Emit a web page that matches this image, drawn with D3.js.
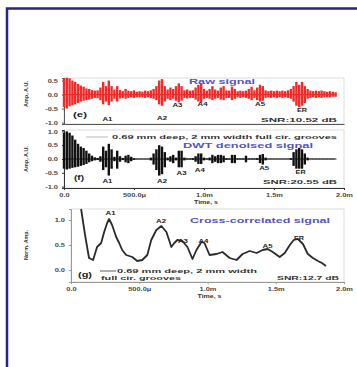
<!DOCTYPE html>
<html>
<head>
<meta charset="utf-8">
<script src="https://cdn.jsdelivr.net/npm/d3@7"></script>
<style>
  body { margin: 0; background: #fff; }
  svg text { font-family: "Liberation Sans", Arial, sans-serif; font-weight: bold; }
</style>
</head>
<body>
<svg id="chart" width="357" height="367"></svg>
<script>
const sampleStep = 0.02;
const rawHi = [.58,.6,.58,.5,.45,.38,.32,.28,.22,.2,.16,.14,.15,.25,.45,.3,.5,.3,.18,.3,
  .16,.12,.2,.14,.12,.15,.1,.12,.1,.14,.12,.15,.2,.3,.5,.55,.3,.18,.25,.2,
  .3,.4,.3,.15,.18,.14,.15,.25,.35,.4,.2,.14,.2,.3,.18,.14,.25,.3,.15,.14,
  .28,.2,.12,.14,.12,.14,.2,.28,.15,.25,.35,.3,.15,.12,.14,.12,.14,.12,.14,.12,
  .15,.2,.3,.45,.35,.45,.3,.2,.14,.12,.14,.12,.14,.12,.1,.12,.1,.08];
const rawLo = [.45,.5,.42,.38,.35,.3,.25,.22,.2,.18,.15,.12,.13,.2,.35,.25,.38,.25,.15,.25,
  .14,.12,.15,.12,.1,.12,.1,.1,.1,.12,.1,.12,.15,.2,.35,.4,.25,.15,.2,.15,
  .22,.28,.22,.12,.14,.12,.12,.18,.25,.28,.15,.12,.15,.2,.15,.12,.18,.2,.12,.12,
  .2,.15,.1,.12,.1,.12,.15,.2,.12,.2,.25,.22,.12,.1,.12,.1,.12,.1,.12,.1,
  .12,.15,.25,.4,.45,.4,.3,.15,.12,.1,.12,.1,.12,.1,.1,.1,.08,.08];
const dwtHi = [.95,1.0,.95,.85,.7,.55,.45,.4,.3,.2,.12,.06,.04,.1,.45,.3,.55,.35,.08,.3,
  .1,.04,.12,.15,.08,.03,.01,.01,.01,.01,.01,.05,.2,.35,.5,.45,.25,.05,.1,.15,
  .05,.3,.3,.05,.02,.02,.03,.1,.2,.2,.05,.02,.05,.15,.1,.15,.15,.12,.03,.02,
  .15,.15,.02,.02,.02,.12,.02,.02,.02,.03,.15,.18,.05,.01,.01,.01,.01,.01,.01,.01,
  .01,.03,.25,.35,.4,.35,.2,.05,.01,.01,.01,.01,.01,.01,.01,.01,.01,.01];
const dwtLo = [.35,.38,.35,.32,.3,.28,.25,.22,.18,.12,.08,.05,.04,.1,.4,.3,.6,.35,.08,.35,
  .1,.04,.12,.15,.08,.03,.01,.01,.01,.01,.01,.05,.2,.4,.6,.55,.3,.05,.1,.15,
  .05,.3,.3,.05,.02,.02,.03,.1,.18,.18,.05,.02,.05,.15,.1,.15,.15,.12,.03,.02,
  .15,.15,.02,.02,.02,.12,.02,.02,.02,.03,.15,.2,.05,.01,.01,.01,.01,.01,.01,.01,
  .01,.03,.25,.35,.35,.35,.2,.05,.01,.01,.01,.01,.01,.01,.01,.01,.01,.01];

// cross-correlated trace (time in ms, normalised amplitude)
const xcorrT = [.074,.103,.132,.162,.191,.221,.243,.265,.279,.301,.331,.353,.375,.404,.449,.485,.522,.559,.588,.625,
  .662,.699,.735,.757,.779,.816,.853,.890,.919,.956,.978,1.015,1.066,1.110,1.162,1.213,1.257,1.309,1.360,1.404,
  1.441,1.478,1.529,1.566,1.603,1.632,1.662,1.699,1.735,1.772,1.809,1.838,1.868];
const xcorrV = [1.22,.70,.24,.20,.46,.54,.76,.94,1.02,.90,.66,.54,.40,.30,.26,.18,.20,.30,.60,.80,
  .88,.76,.46,.54,.60,.58,.46,.22,.40,.56,.54,.30,.32,.36,.24,.20,.32,.38,.34,.40,
  .42,.36,.26,.34,.50,.60,.62,.52,.32,.24,.18,.14,.08];

const peakNames = ['A1', 'A2', 'A3', 'A4', 'A5', 'ER'];
const rawPeakT = [.31, .70, .81, .99, 1.40, 1.70];
const rawPeakV = [-.94, -.91, -.45, -.41, -.41, -.62];
const dwtPeakT = [.31, .70, .84, .97, 1.43, 1.69];
const dwtPeakV = [-.87, -.87, -.58, -.47, -.40, -.54];
const xcPeakT = [.29, .66, .82, .97, 1.44, 1.67];
const xcPeakV = [1.10, .94, .54, .54, .44, .60];

const timeTicks = [0, 0.5, 1.0, 1.5, 2.0];
const timeLabels = ['0.0', '500.0\u03bc', '1.0m', '1.5m', '2.0m'];
const ampTicksE = [0.5, 0.0, -0.5, -1.0];
const ampTicksF = [1.0, 0.5, 0.0, -0.5, -1.0];
const normTicks = [1.0, 0.5, 0.0];

const svg = d3.select('#chart');
const titleBlue = '#5555c4';
const widen = 1.35; // the scanned figure is stretched sideways

// outer frame
svg.append('path')
  .attr('d', 'M7,370 L7,8.5 L360,8.5')
  .attr('fill', 'none')
  .attr('stroke', '#262680')
  .attr('stroke-width', 2.5);

function stretchText(g, x, y, str, len, opts = {}) {
  const t = g.append('text')
    .attr('x', x).attr('y', y)
    .attr('font-size', opts.size || 6)
    .attr('fill', opts.color || '#333')
    .attr('text-anchor', opts.anchor || 'start')
    .text(str);
  if (len) t.attr('textLength', len).attr('lengthAdjust', 'spacingAndGlyphs');
  return t;
}

function widenTicks(sel) {
  sel.each(function () {
    const w = this.getComputedTextLength();
    d3.select(this).attr('textLength', w * widen).attr('lengthAdjust', 'spacingAndGlyphs');
  });
}

function panel(box, yDomain, yTicks, opts) {
  const x = d3.scaleLinear().domain([0, 2]).range([box.x0, box.x1]);
  const y = d3.scaleLinear().domain(yDomain).range([box.y1, box.y0]);
  const g = svg.append('g');

  g.append('rect')
    .attr('x', box.x0).attr('y', box.y0)
    .attr('width', box.x1 - box.x0).attr('height', box.y1 - box.y0)
    .attr('fill', '#fff').attr('stroke', '#d4d4d4').attr('stroke-width', 0.8);

  const yAxis = g.append('g')
    .attr('transform', `translate(${box.x0},0)`)
    .call(d3.axisLeft(y).tickValues(yTicks).tickSize(2).tickPadding(4)
      .tickFormat(d3.format('.1f')));
  yAxis.select('.domain').attr('stroke', opts.axisColor);
  yAxis.selectAll('line').attr('stroke', opts.axisColor);
  yAxis.selectAll('text').attr('font-size', 5.5).attr('fill', '#444')
    .attr('font-family', '"Liberation Sans", Arial, sans-serif').attr('font-weight', 'bold')
    .text(d => d3.format('.1f')(d).replace('\u2212', '-'))
    .call(widenTicks);

  const xAxis = g.append('g')
    .attr('transform', `translate(0,${box.y1})`)
    .call(d3.axisBottom(x).tickValues(timeTicks).tickSize(opts.showTime ? 2 : 0)
      .tickPadding(3).tickFormat((d, i) => opts.showTime ? timeLabels[i] : ''));
  xAxis.select('.domain').attr('stroke', opts.axisColor);
  xAxis.selectAll('line').attr('stroke', opts.axisColor);
  xAxis.selectAll('text').attr('font-size', 5.5).attr('fill', '#444')
    .attr('font-family', '"Liberation Sans", Arial, sans-serif').attr('font-weight', 'bold')
    .call(widenTicks);

  if (opts.showTime) {
    stretchText(g, (box.x0 + box.x1) / 2 + 2, box.y1 + 16, 'Time, s', 24, { anchor: 'middle', size: 5.5 });
  }

  stretchText(g, 0, 0, opts.yTitle, opts.yTitleLen, { anchor: 'middle', size: 5.5 })
    .attr('transform', `translate(${opts.yTitleX},${opts.yTitleY}) rotate(-90)`);

  return { g, x, y };
}

// waveform drawn as one vertical stroke per sample, from -lo to +hi, on a thin base line
function waveform(p, hi, lo, color) {
  const data = hi.map((h, i) => ({ t: i * sampleStep, hi: h, lo: lo[i] }));
  p.g.append('path')
    .datum(data)
    .attr('d', d3.line().x(d => p.x(d.t)).y(p.y(0)))
    .attr('stroke', color).attr('stroke-width', 1.2).attr('fill', 'none');
  p.g.append('g').selectAll('line')
    .data(data)
    .join('line')
    .attr('x1', d => p.x(d.t)).attr('x2', d => p.x(d.t))
    .attr('y1', d => p.y(d.hi)).attr('y2', d => p.y(-d.lo))
    .attr('stroke', color).attr('stroke-width', 2.4);
}

// (e) raw signal
const pe = panel({ x0: 64, x1: 344, y0: 78, y1: 124 }, [-1.05, 0.59], ampTicksE,
  { axisColor: '#555', showTime: false, yTitle: 'Amp, A.U.', yTitleLen: 26, yTitleX: 28, yTitleY: 94 });
waveform(pe, rawHi, rawLo, '#f22a2a');
stretchText(pe.g, 222, 84, 'Raw signal', 66, { anchor: 'middle', size: 7, color: titleBlue });
stretchText(pe.g, 80, 117, '(e)', 14, { anchor: 'middle', size: 6.5, color: '#222' });
stretchText(pe.g, 337, 122, 'SNR:10.52 dB', 76, { anchor: 'end', size: 5.5 });
peakNames.forEach((n, i) => {
  stretchText(pe.g, pe.x(rawPeakT[i]), pe.y(rawPeakV[i]), n, 10, { anchor: 'middle', size: 5.5, color: '#222' });
});

// (f) DWT denoised signal
const pf = panel({ x0: 64, x1: 344, y0: 130, y1: 188 }, [-1.05, 1.05], ampTicksF,
  { axisColor: '#333', showTime: true, yTitle: 'Amp, A.U.', yTitleLen: 26, yTitleX: 28, yTitleY: 159 });
waveform(pf, dwtHi, dwtLo, '#111');
pf.g.append('line')
  .attr('x1', 86).attr('x2', 108).attr('y1', 137).attr('y2', 137)
  .attr('stroke', '#aaa').attr('stroke-width', 0.8);
stretchText(pf.g, 112, 139, '0.69 mm deep, 2 mm width full cir. grooves', 225, { size: 5.5 });
stretchText(pf.g, 248, 148, 'DWT denoised signal', 130, { anchor: 'middle', size: 7, color: titleBlue });
stretchText(pf.g, 79, 180, '(f)', 10, { anchor: 'middle', size: 6.5, color: '#222' });
stretchText(pf.g, 337, 184, 'SNR:20.55 dB', 74, { anchor: 'end', size: 5.5 });
peakNames.forEach((n, i) => {
  stretchText(pf.g, pf.x(dwtPeakT[i]), pf.y(dwtPeakV[i]), n, 10, { anchor: 'middle', size: 5.5, color: '#222' });
});

// (g) cross-correlated signal
const pg = panel({ x0: 71, x1: 344, y0: 209, y1: 282 }, [-0.24, 1.22], normTicks,
  { axisColor: '#999', showTime: true, yTitle: 'Norm. Amp.', yTitleLen: 30, yTitleX: 28, yTitleY: 245 });
const xcData = xcorrT.map((t, i) => ({ t, v: xcorrV[i] }));
pg.g.append('path')
  .datum(xcData)
  .attr('d', d3.line().x(d => pg.x(d.t)).y(d => pg.y(d.v)))
  .attr('fill', 'none').attr('stroke', '#2a2a2a').attr('stroke-width', 1.8)
  .attr('stroke-linejoin', 'round');
stretchText(pg.g, 260, 223, 'Cross-correlated signal', 140, { anchor: 'middle', size: 7, color: titleBlue });
stretchText(pg.g, 85, 277, '(g)', 14, { anchor: 'middle', size: 6.5, color: '#222' });
pg.g.append('line')
  .attr('x1', 100).attr('x2', 116).attr('y1', 271).attr('y2', 271)
  .attr('stroke', '#333').attr('stroke-width', 0.8);
stretchText(pg.g, 117, 273, '0.69 mm deep, 2 mm width', 140, { size: 5.5 });
stretchText(pg.g, 101, 280, 'full cir. grooves', 80, { size: 5.5 });
stretchText(pg.g, 339, 280, 'SNR:12.7 dB', 62, { anchor: 'end', size: 5.5 });
peakNames.forEach((n, i) => {
  stretchText(pg.g, pg.x(xcPeakT[i]), pg.y(xcPeakV[i]), n, 10, { anchor: 'middle', size: 5.5, color: '#222' });
});
</script>
</body>
</html>
